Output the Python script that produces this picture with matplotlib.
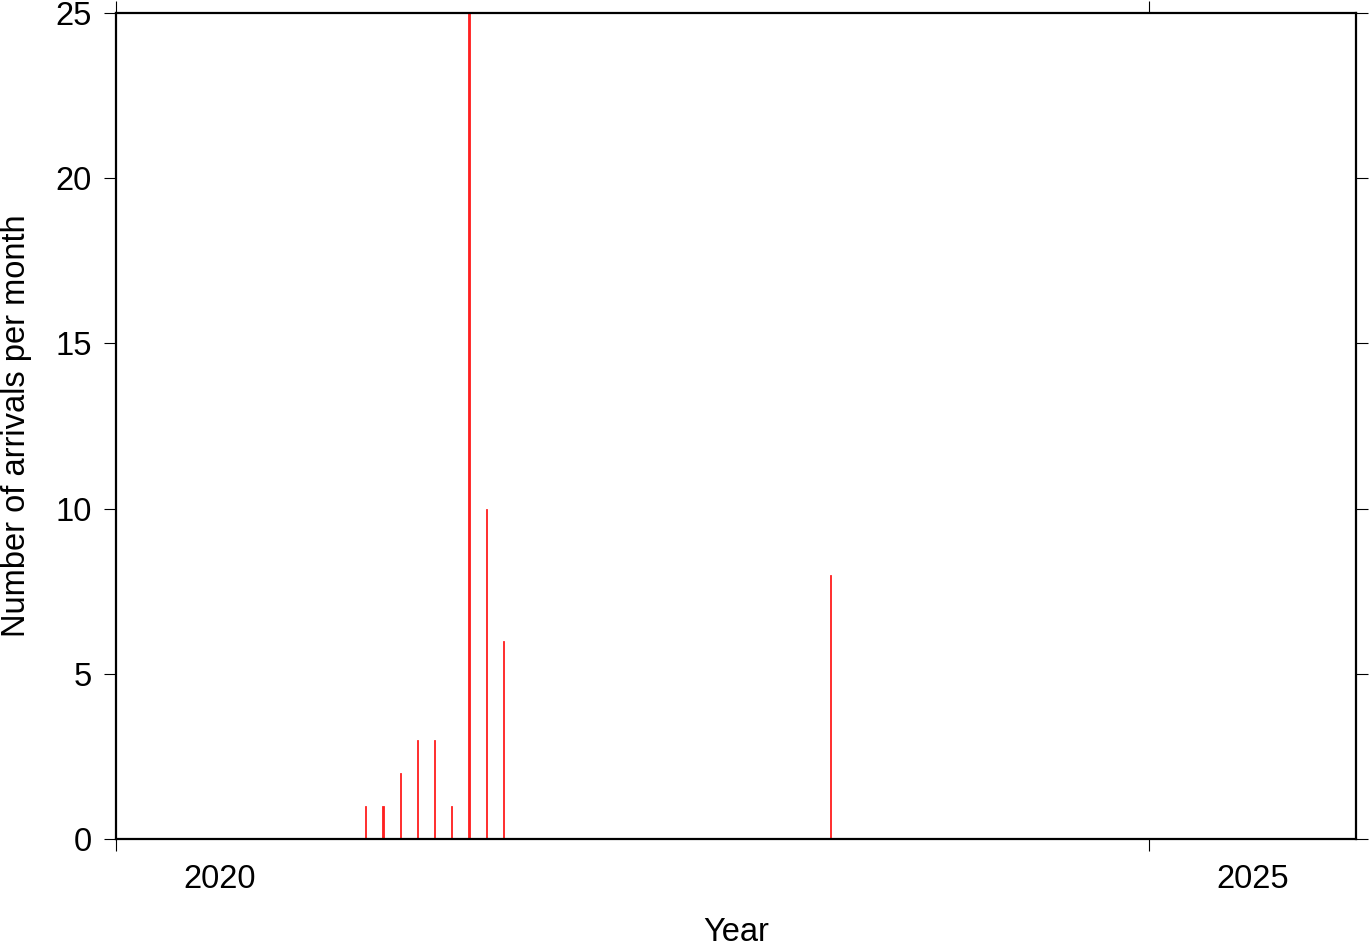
import matplotlib
matplotlib.use("Agg")
import matplotlib.pyplot as plt
from matplotlib.ticker import FixedLocator, NullFormatter, FixedFormatter

# Data: monthly arrival counts
months = ["2021-03", "2021-04", "2021-05", "2021-06", "2021-07",
          "2021-08", "2021-09", "2021-10", "2021-11", "2023-06"]
counts = [1, 1, 2, 3, 3, 1, 25, 10, 6, 8]
year_ticks = [2020, 2025]
year_labels = ["2020", "2025"]

def month_center(s):
    y, m = s.split("-")
    return int(y) + (int(m) - 0.5) / 12.0

xs = [month_center(m) for m in months]

plt.rcParams['font.family'] = ['Liberation Sans', 'DejaVu Sans']

fig = plt.figure(figsize=(13.69, 9.42), dpi=100)
ax = fig.add_axes([116/1369, 1-839/942, (1356-116)/1369, (839-13)/942])

ax.bar(xs, counts, width=0.006, color="#ff2020", edgecolor="#ff2020",
       linewidth=0.6, align="center")

ax.set_xlim(2020, 2026)
ax.set_ylim(0, 25)

ax.xaxis.set_major_locator(FixedLocator(year_ticks))
ax.xaxis.set_major_formatter(NullFormatter())
ax.xaxis.set_minor_locator(FixedLocator([y + 0.5 for y in year_ticks]))
ax.xaxis.set_minor_formatter(FixedFormatter(year_labels))
ax.set_yticks([0, 5, 10, 15, 20, 25])

ax.tick_params(axis="both", which="major", direction="out", length=8.6, width=0.8,
               labelsize=23.5, top=True, right=True, pad=8.6)
ax.tick_params(axis="x", which="minor", length=0, labelsize=23.5, pad=18, top=False)

for sp in ax.spines.values():
    sp.set_linewidth(1.6)

ax.set_xlabel("Year", fontsize=23.5, labelpad=16)
ax.set_ylabel("Number of arrivals per month", fontsize=23.5, labelpad=17)

fig.savefig("out.png", dpi=100)
